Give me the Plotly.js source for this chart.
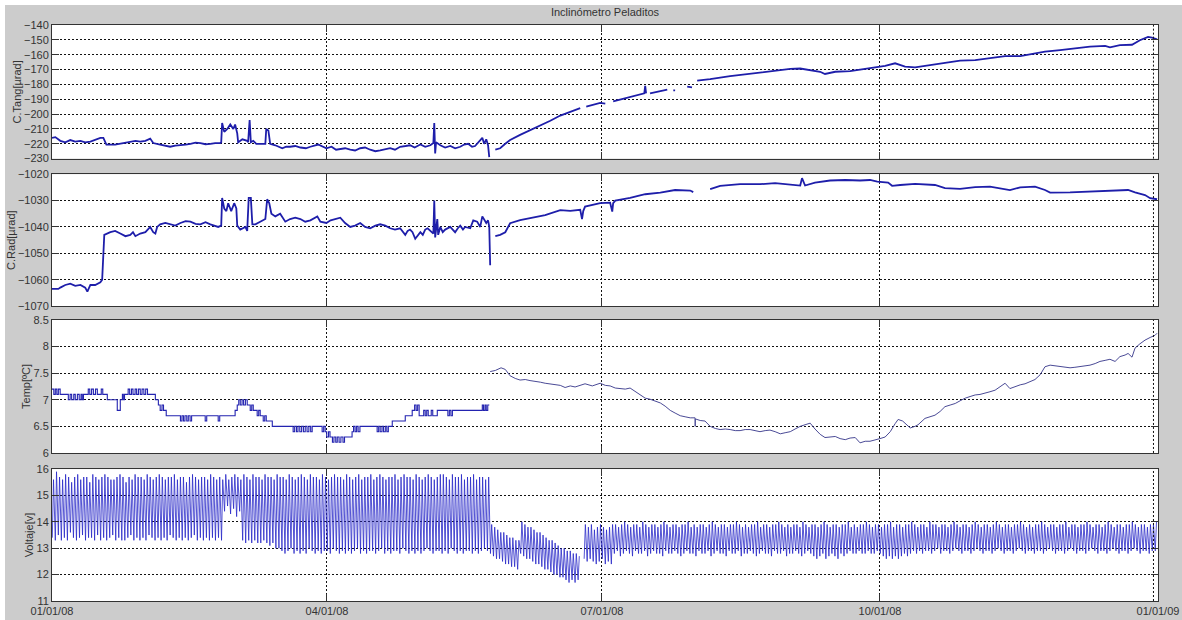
<!DOCTYPE html>
<html><head><meta charset="utf-8">
<script src="https://cdn.plot.ly/plotly-3.0.1.min.js"></script>
<style>html,body{margin:0;padding:0;background:#cccccc}#chart{width:1182px;height:620px}</style>
</head><body><div id="chart"></div>
<script>
// ---- time axis helpers (days since 2008-01-01) ----
const START = Date.UTC(2008,0,1);
const DAY = 86400000;
function dayToStr(d){ return new Date(START + d*DAY).toISOString().slice(0,19).replace('T',' '); }

const xTickVals = ['2008-01-01','2008-04-01','2008-07-01','2008-10-01','2009-01-01'];
const xTickText = ['01/01/08','04/01/08','07/01/08','10/01/08','01/01/09'];

// ---- C.Tang [µrad] ----
const tangDay = [0,1.1,2.75,4.4,6.05,7.7,9.4,11.0,12.7,14.3,16.0,17.0,18.0,20.9,22.6,24.3,26.0,27.6,29.2,30.9,32.5,33.5,35.8,37.5,39.1,40.8,42.5,44.2,45.8,47.5,49.1,50.8,52.4,54.0,55.7,56.0,56.3,57.0,58.0,59.0,60.0,60.6,61.3,61.6,63.0,64.6,64.9,65.4,65.8,66.6,67.6,70.6,70.9,71.6,72.2,73.9,76.2,77.5,78.8,80.5,82.2,84.0,85.5,87.0,88.1,90.8,92.5,94.0,95.4,97.0,98.7,100.3,102.0,103.6,105.3,107.0,108.6,110.3,111.9,113.5,115.2,117.0,118.5,120.0,121.9,123.5,125.2,126.2,126.5,126.8,127.1,128.5,130.1,131.8,133.4,135.1,136.4,137.7,139.0,140.0,141.0,142.4,143.0,143.7,144.3,144.7,145.6,146.7,148.3,150.0,151.6,154.9,158.2,161.6,164.9,168.2,171.5,174.8,175.8,176.8,181.4,183.1,184.4,185.7,191.3,196.0,196.3,196.6,197.3,197.9,203.6,204.6,205.6,206.2,208.0,210.2,211.8,212.8,213.5,216.1,217.8,224.4,231.0,237.6,244.3,247.6,250.9,254.2,255.8,259.2,264.1,269.1,273.1,275.7,279.0,282.3,285.6,290.6,295.5,300.5,305.5,310.4,315.4,320.4,323.7,328.6,333.6,338.5,343.5,348.5,350.1,353.4,357.4,360.0,362.7,364.0,365.7];
const tangVal = [-216,-215.5,-218,-219,-217.5,-218.5,-218,-219,-218.5,-217.5,-216,-216,-220.5,-220.5,-219.8,-219.5,-218.8,-218,-218.5,-218,-216.5,-219.5,-220.5,-221.2,-222,-221.2,-221,-220.5,-220,-219.2,-219.5,-220.3,-220,-219.5,-219.5,-219,-206,-212,-210,-207,-210,-207,-213,-219,-217,-218,-219,-204,-219,-218,-220,-220,-210,-211,-220,-221,-223,-222,-222,-221.5,-222.5,-223,-222,-221,-220.5,-223,-222,-224,-223.5,-223,-224,-224.5,-223,-222.5,-224,-225,-224.5,-223.5,-223,-224,-222,-221.5,-221,-222.5,-220.5,-222,-221,-219.5,-206,-226.5,-219,-221,-222.5,-221.5,-223,-222,-220.5,-220,-222,-221.5,-219,-216,-220,-217,-221,-229,null,-224,-223,-220,-217.5,-214,-211,-208,-204.5,-201,-198.5,-196,null,-195,-192.5,-193,null,-191.5,-188.5,-186,-181,-186,null,-186,-183.5,null,-184,-184,null,-181.5,-182,null,-177.5,-177,-176.5,-174.5,-172.7,-171,-169.5,-169.3,-170.4,-171.5,-173,-171.5,-171,-169.6,-168.5,-167.6,-165.8,-168,-168.5,-166.9,-165.4,-164,-163.6,-162.5,-161,-161,-159.6,-158,-156.9,-155.7,-154.6,-154.1,-155,-153.5,-153.3,-150.3,-148,-148.5,-149.6];

// ---- C.Rad [µrad] ----
const radDay = [0,2.1,2.75,4.4,6.05,7.7,9.4,11.0,11.7,12.7,14.3,16.0,16.6,17.0,17.3,19.3,20.9,22.6,24.3,25.9,26.8,27.6,29.2,30.9,32.5,33.5,34.2,34.8,35.8,37.5,39.1,40.8,42.5,44.2,45.8,47.5,49.1,50.8,52.4,53.7,55.0,56.0,56.3,57.0,57.7,58.3,59.3,60.3,61.0,61.3,62.3,64.0,64.6,65.1,65.8,66.3,67.3,68.9,70.6,71.2,71.9,72.6,73.9,75.5,77.2,78.8,80.5,82.2,83.8,85.5,87.8,88.8,90.8,92.2,93.7,95.4,97.0,98.7,100.3,102.0,103.6,105.3,107.0,108.6,110.3,111.9,113.5,115.2,116.9,117.7,118.5,119.3,120.2,121.9,122.7,123.5,124.3,125.2,126.2,126.5,126.8,127.5,127.8,128.5,129.3,130.1,131.8,132.6,133.4,134.3,135.1,136.0,136.7,138.4,139.4,140.7,141.7,142.4,143.0,143.7,144.3,144.7,145.0,145.8,146.7,148.3,150.0,151.6,154.9,158.2,163.2,168.2,171.5,174.8,175.4,175.8,176.4,181.4,184.7,185.4,185.7,186.4,191.3,196.3,201.3,206.2,211.2,212.2,214.0,217.8,221.1,227.7,234.3,239.3,244.3,247.6,248.2,249.2,252.5,257.5,262.5,267.4,270.7,273.1,276.7,278.0,280.7,285.6,292.2,295.5,300.5,305.5,310.4,317.0,320.4,325.3,328.6,330.3,336.9,343.5,350.1,356.1,358.4,361.7,363.4,365.7];
const radVal = [-1063.5,-1063.5,-1063,-1062,-1061.5,-1062.3,-1062,-1063,-1064.5,-1062,-1062,-1061,-1060,-1050,-1043,-1042,-1041.5,-1042.5,-1043.5,-1043,-1042,-1043.5,-1042.5,-1042,-1040,-1042,-1042.5,-1040,-1039,-1038.5,-1039,-1039.5,-1038.5,-1037.8,-1038,-1038.8,-1039,-1038.2,-1039,-1039.5,-1040,-1039.5,-1029,-1033,-1034,-1031,-1034,-1031,-1033,-1039.5,-1041,-1040,-1041.5,-1029,-1029,-1039,-1039,-1038,-1037,-1029.5,-1031,-1035,-1036,-1035,-1038,-1037,-1036.5,-1037,-1038,-1037.5,-1036,-1038,-1038.5,-1037.5,-1037,-1036.5,-1038.5,-1040,-1039.5,-1038.5,-1040,-1040.5,-1039.5,-1039,-1039.5,-1040.5,-1041,-1040.5,-1043,-1041.5,-1041,-1042,-1044.5,-1042,-1043,-1041,-1040.5,-1041.5,-1042.5,-1030,-1044,-1037,-1043,-1040,-1042,-1041,-1040,-1041,-1042,-1040.5,-1039.5,-1041,-1040,-1040.5,-1037.5,-1038,-1040,-1036,-1037,-1038.5,-1037.5,-1040,-1054.5,null,-1043.5,-1043,-1042,-1038.6,-1037.4,-1036.7,-1035.5,-1033.6,-1033.9,-1033.5,-1037,-1034,-1032.3,-1031,-1030.8,-1034.2,-1031,-1030,-1029,-1027.6,-1027,-1026,-1026.2,-1026.8,null,-1025.7,-1024.4,-1023.8,-1023.8,-1023.4,-1024,-1024.3,-1021.5,-1024.3,-1023.2,-1022.4,-1022.2,-1022.4,-1022.2,-1022.8,-1023.2,-1024.4,-1024.1,-1023.7,-1024.1,-1025.3,-1025.6,-1024.9,-1024.7,-1026,-1025,-1024.7,-1026,-1027,-1026.9,-1026.6,-1026.2,-1026,-1026.9,-1027.9,-1029.1,-1029.5];

// ---- Temp [ºC]: stepped logger period (Jan-May) ----
const tempStepDay = [0,0.6,1.1,1.6,2.1,2.7,5.4,6.0,6.5,7.2,7.7,8.4,9.0,9.6,10.0,10.4,12.0,12.5,13.1,13.7,14.4,15.0,16.3,16.8,18.3,21.6,22.6,23.3,23.6,24.0,25.2,25.7,26.3,26.8,27.5,28.0,28.6,29.2,29.8,30.4,31.0,31.6,34.2,35.2,35.8,36.4,36.9,37.8,42.5,43.0,43.5,44.0,44.6,45.1,45.7,46.2,50.7,51.2,55.0,55.5,60.6,61.3,61.8,62.3,62.9,63.4,64.0,64.6,65.6,66.1,66.6,67.9,68.4,68.9,69.9,70.4,70.9,72.9,79.8,80.3,80.9,81.4,82.0,82.6,83.2,83.8,84.4,85.0,85.6,86.1,89.4,89.9,90.4,90.9,91.5,92.0,92.8,93.3,93.9,94.4,95.0,95.6,96.3,96.8,99.3,99.8,100.3,100.8,101.3,101.9,107.6,108.1,108.6,109.2,109.7,110.3,110.8,111.3,112.6,116.9,119.2,120.0,120.5,121.0,121.5,123.0,123.5,124.0,124.5,125.5,126.0,127.5,131.0,131.5,132.0,132.5,142.4,142.8,143.3,143.7,144.2,144.7];
const tempStepVal = [7.2,7.1,7.2,7.1,7.2,7.1,7.0,7.1,7.0,7.1,7.0,7.1,7.0,7.1,7.0,7.1,7.2,7.1,7.2,7.1,7.2,7.1,7.2,7.1,7.0,6.8,7.0,7.1,7.0,7.1,7.2,7.1,7.2,7.1,7.2,7.1,7.2,7.1,7.2,7.1,7.2,7.1,7.0,6.9,6.8,6.9,6.8,6.7,6.6,6.7,6.6,6.7,6.6,6.7,6.6,6.7,6.6,6.7,6.6,6.7,6.8,6.9,7.0,6.9,7.0,6.9,7.0,6.9,6.8,6.9,6.8,6.7,6.8,6.7,6.6,6.7,6.6,6.5,6.4,6.5,6.4,6.5,6.4,6.5,6.4,6.5,6.4,6.5,6.4,6.5,6.4,6.5,6.4,6.3,6.4,6.3,6.2,6.3,6.2,6.3,6.2,6.3,6.2,6.3,6.4,6.5,6.4,6.5,6.4,6.5,6.4,6.5,6.4,6.5,6.4,6.5,6.4,6.5,6.6,6.7,6.8,6.9,6.8,6.9,6.7,6.8,6.7,6.8,6.7,6.8,6.7,6.8,6.7,6.8,6.7,6.8,6.9,6.8,6.9,6.8,6.9,6.9];

// ---- Temp [ºC]: high-resolution period (May-Dec) ----
const tempDay = [145.0,146.7,148.6,150.0,151.6,153.3,154.9,156.6,158.2,159.9,161.6,163.2,164.9,166.5,168.2,169.8,171.5,173.1,174.8,176.4,178.8,181.4,183.1,184.7,186.4,189.7,191.3,193.0,194.6,196.3,197.9,199.6,201.3,202.9,204.6,206.2,207.9,209.5,211.2,212.8,212.85,212.9,214.5,216.1,217.8,219.5,221.1,222.8,224.4,226.1,227.7,229.4,231.0,232.7,234.3,236.0,237.6,239.3,241.0,242.6,244.3,245.9,247.6,249.2,250.9,252.5,254.2,255.8,257.5,259.2,260.8,262.5,264.1,265.8,267.4,269.1,270.7,272.4,274.0,275.7,277.4,279.0,280.0,281.5,282.3,284.0,285.6,286.6,288.9,290.6,292.2,293.9,295.5,297.2,298.9,300.5,302.2,303.8,305.5,307.1,308.8,310.4,312.1,313.7,315.4,317.0,318.7,320.4,322.0,323.7,325.3,327.0,328.6,330.3,331.9,333.6,335.2,336.9,338.5,340.2,341.9,343.5,345.2,346.8,348.5,350.1,351.8,353.4,355.1,356.1,357.4,358.4,360.0,361.7,363.4,364.0,365.0,365.7];
const tempVal = [7.53,7.55,7.60,7.57,7.45,7.40,7.37,7.38,7.36,7.35,7.33,7.31,7.30,7.28,7.27,7.23,7.26,7.24,7.27,7.30,7.26,7.31,7.27,7.26,7.22,7.20,7.22,7.15,7.10,7.03,7.01,6.98,6.94,6.88,6.80,6.75,6.70,6.68,6.66,6.66,6.50,6.64,6.61,6.60,6.50,6.46,6.44,6.45,6.44,6.42,6.42,6.44,6.44,6.42,6.40,6.42,6.43,6.40,6.36,6.38,6.40,6.45,6.50,6.53,6.56,6.45,6.35,6.29,6.30,6.31,6.27,6.25,6.28,6.29,6.19,6.22,6.22,6.24,6.27,6.30,6.40,6.55,6.63,6.60,6.56,6.47,6.50,6.53,6.65,6.68,6.71,6.78,6.87,6.90,6.93,6.98,7.03,7.06,7.09,7.10,7.12,7.15,7.18,7.24,7.31,7.21,7.25,7.28,7.30,7.34,7.38,7.47,7.62,7.65,7.64,7.62,7.61,7.60,7.61,7.62,7.63,7.65,7.68,7.72,7.74,7.76,7.72,7.81,7.84,7.87,7.80,7.97,8.05,8.12,8.17,8.19,8.21,8.25];

// ---- Voltaje [v]: daily maximum and minimum, one entry per day from 2008-01-01 ----
const voltHigh = [
15.6,15.9,15.7,15.6,15.8,15.7,15.5,15.7,15.8,15.6,
15.7,15.7,15.5,15.8,15.7,15.6,15.7,15.8,15.7,15.6,
15.6,15.7,15.8,15.7,15.5,15.7,15.6,15.8,15.7,15.7,
15.6,15.8,15.7,15.6,15.7,15.8,15.7,15.6,15.7,15.7,
15.8,15.6,15.7,15.7,15.5,15.7,15.8,15.7,15.6,15.7,
15.7,15.6,15.8,15.7,15.6,15.7,15.6,
15.8,15.6,15.7,15.8,15.7,15.6,
15.8,15.7,15.6,15.8,15.7,15.7,15.6,15.8,15.7,15.7,15.6,15.8,15.7,
15.7,15.6,15.8,15.7,15.6,15.7,15.8,15.7,15.6,15.8,
15.7,15.7,15.6,15.8,15.7,15.6,15.7,15.8,15.7,15.7,
15.6,15.8,15.7,15.6,15.7,15.8,15.6,15.7,15.7,15.8,
15.6,15.7,15.8,15.7,15.6,15.7,15.7,15.8,15.6,15.7,
15.8,15.7,15.7,15.6,15.8,15.7,15.6,15.7,15.8,15.7,
15.6,15.7,15.8,15.8,15.7,15.6,15.8,15.7,15.7,15.8,
15.6,15.7,15.7,15.8,15.6,15.7,15.7,15.6,15.7,
13.9,13.8,13.7,13.6,13.6,13.5,13.4,13.4,13.3,13.3,
14.0,13.9,13.8,13.8,13.7,13.6,13.6,13.5,13.4,13.3,
13.3,13.2,13.1,13.0,13.0,12.9,12.9,12.8,12.8,12.7,
null,
13.9,13.8,13.9,13.7,13.8,13.9,13.8,13.7,13.8,13.9,
13.9,13.8,13.9,14.0,13.9,13.8,13.9,13.9,13.8,14.0,13.9,13.8,13.9,13.9,13.8,13.9,14.0,13.9,13.8,13.9,
13.9,13.8,13.9,13.9,14.0,13.8,13.9,13.8,13.9,13.9,13.8,13.9,14.0,13.9,13.8,13.9,13.9,13.8,13.9,13.9,
14.0,13.9,13.8,13.9,13.8,13.9,13.9,14.0,13.8,13.9,13.9,13.8,13.9,13.9,14.0,13.9,13.8,13.9,13.8,13.9,
13.9,13.8,14.0,13.9,13.8,13.9,13.9,13.8,13.9,14.0,13.9,13.8,13.9,13.9,13.8,13.9,13.9,14.0,13.8,13.9,
13.8,13.9,13.9,14.0,13.9,13.8,13.9,13.9,13.8,13.9,13.9,14.0,13.8,13.9,13.9,13.8,13.9,13.9,14.0,13.9,
13.8,13.9,13.9,13.8,14.0,13.9,13.9,13.8,13.9,13.9,13.8,13.9,14.0,13.9,13.8,13.9,13.9,13.8,13.9,14.0,
13.9,13.8,13.9,13.9,13.8,13.9,14.0,13.9,13.8,13.9,13.9,13.8,13.9,13.9,14.0,13.9,13.8,13.9,13.8,13.9,
13.9,14.0,13.9,13.8,13.9,13.9,13.8,13.9,13.9,14.0,13.8,13.9,13.9,13.8,13.9,13.9,14.0,13.9,13.8,13.9,
13.9,13.8,13.9,14.0,13.9,13.8,13.9,13.9,13.8,13.9,13.9,14.0,13.9,13.8,13.9,13.9,13.8,13.9,13.9,14.0
];
const voltLow = [
13.4,13.3,13.5,13.3,13.4,13.3,13.6,13.4,13.3,13.4,
13.5,13.3,13.4,13.4,13.3,13.5,13.3,13.4,13.3,13.4,
13.5,13.3,13.4,13.3,13.3,13.4,13.5,13.3,13.4,13.3,
13.4,13.3,13.5,13.4,13.3,13.4,13.3,13.4,13.3,13.5,
13.4,13.3,13.4,13.3,13.4,13.3,13.4,13.5,13.3,13.4,
13.3,13.4,13.3,13.4,13.3,13.4,13.3,
14.4,14.6,14.3,14.5,14.2,14.4,
13.3,13.2,13.3,13.2,13.3,13.2,13.2,13.3,13.2,13.1,13.2,13.0,13.0,
12.9,12.8,12.9,13.0,12.8,12.9,12.8,12.9,12.8,13.0,
12.9,12.8,12.9,12.8,12.9,12.9,12.8,13.0,12.9,12.8,
12.9,12.8,12.9,12.8,12.9,13.0,12.8,12.9,12.8,12.9,
12.9,12.8,12.9,13.0,12.8,12.9,12.8,12.9,12.9,12.8,
13.0,12.9,12.8,12.9,12.8,12.9,12.8,12.9,13.0,12.9,
12.8,12.9,12.9,12.8,12.9,12.8,13.0,12.9,12.8,12.9,
12.8,12.9,12.9,12.8,12.9,12.8,12.9,13.0,12.9,
12.8,12.7,12.6,12.6,12.5,12.4,12.4,12.3,12.3,12.2,
12.8,12.7,12.6,12.6,12.5,12.4,12.4,12.3,12.2,12.2,
12.1,12.0,12.0,11.9,11.9,11.8,11.7,11.8,11.7,11.8,
null,
12.6,12.5,12.6,12.5,12.4,12.5,12.6,12.4,12.5,12.4,
12.8,12.9,12.7,12.8,12.9,12.8,12.7,12.9,12.8,12.8,12.9,12.7,12.8,12.9,12.8,12.8,12.7,12.9,12.8,12.8,
12.9,12.8,12.7,12.8,12.9,12.8,12.8,12.7,12.9,12.8,12.8,12.9,12.7,12.8,12.9,12.8,12.8,12.7,12.9,12.8,
12.8,12.9,12.7,12.8,12.8,12.9,12.8,12.7,12.8,12.9,12.8,12.8,12.7,12.9,12.8,12.8,12.9,12.7,12.8,12.8,
12.9,12.8,12.7,12.8,12.9,12.8,12.7,12.6,12.7,12.8,12.6,12.7,12.8,12.7,12.6,12.8,12.7,12.8,12.9,12.8,
12.8,12.9,12.8,12.8,12.9,12.8,12.8,12.9,12.8,12.7,12.6,12.7,12.6,12.7,12.6,12.7,12.8,12.7,12.8,12.9,
12.8,12.9,12.8,12.9,12.9,12.8,12.9,13.0,12.8,12.9,12.9,12.8,12.9,13.0,12.9,12.8,12.9,12.9,12.8,12.9,
13.0,12.9,12.8,12.9,12.9,12.8,12.9,13.0,12.9,12.8,12.9,12.9,12.8,12.9,13.0,12.9,12.8,12.9,12.9,12.8,
12.9,12.9,12.8,12.9,13.0,12.9,12.8,12.9,12.9,12.8,12.9,13.0,12.9,12.8,12.9,12.9,12.8,12.9,13.0,12.9,
12.8,12.9,12.9,12.8,12.9,13.0,12.9,12.8,12.9,12.9,12.8,12.9,13.0,12.9,12.8,12.9,12.9,12.8,12.9,12.9
];

// ---- build traces ----
const vx = [], vy = [];
for (let i = 0; i < voltHigh.length; i++) {
  if (voltHigh[i] === null) { vx.push(dayToStr(i + 0.5)); vy.push(null); continue; }
  vx.push(dayToStr(i + 0.1)); vy.push(voltLow[i]);
  vx.push(dayToStr(i + 0.5)); vy.push(voltHigh[i]);
}

const BLUE = '#1e1eaa';
const traces = [
  {x: tangDay.map(dayToStr), y: tangVal, xaxis:'x', yaxis:'y', type:'scatter', mode:'lines', line:{color:BLUE, width:1.8}},
  {x: radDay.map(dayToStr), y: radVal, xaxis:'x2', yaxis:'y2', type:'scatter', mode:'lines', line:{color:BLUE, width:1.8}},
  {x: tempStepDay.map(dayToStr), y: tempStepVal, xaxis:'x3', yaxis:'y3', type:'scatter', mode:'lines', line:{color:'#2323b0', width:1.1, shape:'hv'}},
  {x: tempDay.map(dayToStr), y: tempVal, xaxis:'x3', yaxis:'y3', type:'scatter', mode:'lines', line:{color:'#4a4a96', width:1}},
  {x: vx, y: vy, xaxis:'x4', yaxis:'y4', type:'scatter', mode:'lines', line:{color:'#2828c8', width:0.8}}
];

const FONT = {family:'"Liberation Sans", Arial, sans-serif', size:11, color:'#333'};
const GRID = '#111';
function xax(showLabels, anchor){
  return {type:'date', range:['2008-01-01','2009-01-01'], tickmode:'array', tickvals:xTickVals, ticktext:xTickText,
    showticklabels:showLabels, ticks:'inside', ticklen:7, tickcolor:'#333', mirror:'ticks', showline:true,
    linecolor:'#333', linewidth:1, showgrid:true, gridcolor:GRID, griddash:'2px,2px', gridwidth:1,
    zeroline:false, anchor:anchor, tickfont:FONT, fixedrange:true};
}
function yax(domain, range, dtick, title, anchor){
  return {domain:domain, range:range, dtick:dtick, tick0:range[0], tickmode:'linear', ticks:'inside', ticklen:7,
    tickcolor:'#333', mirror:'ticks', showline:true, linecolor:'#333', linewidth:1, showgrid:true,
    gridcolor:GRID, griddash:'2px,2px', gridwidth:1, zeroline:false, anchor:anchor, tickfont:FONT,
    title:{text:title, font:FONT, standoff:0}, fixedrange:true};
}

const shapes = [];
['y','y2','y3','y4'].forEach((ya,i)=>{
  shapes.push({type:'line', xref:(i===0?'x':'x'+(i+1)), yref:ya+' domain', x0:'2008-12-30 12:00', x1:'2008-12-30 12:00', y0:0, y1:1,
    line:{color:GRID, width:1, dash:'2px,2px'}, layer:'above'});
});
// thin white border along the top and left edges of the figure
shapes.push({type:'rect', xref:'paper', yref:'paper', x0:-0.06, x1:1.05, y0:(601-5)/576, y1:1.06, fillcolor:'#ffffff', line:{width:0}, layer:'below'});
shapes.push({type:'rect', xref:'paper', yref:'paper', x0:-0.06, x1:-47/1106, y0:-0.05, y1:1.06, fillcolor:'#ffffff', line:{width:0}, layer:'below'});

const layout = {
  width:1182, height:620,
  paper_bgcolor:'#cccccc', plot_bgcolor:'#ffffff',
  margin:{l:52, r:24, t:25, b:19},
  showlegend:false,
  title:{text:'Inclinómetro Peladitos', font:FONT, x:0.5, xref:'paper', y:1-12/620, yref:'container', yanchor:'middle'},
  xaxis: xax(false,'y'), yaxis: yax([0.768,1], [-230,-140], 10, 'C.Tang[µrad]', 'x'),
  xaxis2: xax(false,'y2'), yaxis2: yax([0.512,0.741], [-1070,-1020], 10, 'C.Rad[µrad]', 'x2'),
  xaxis3: xax(false,'y3'), yaxis3: yax([0.257,0.488], [6,8.5], 0.5, 'Temp[ºC]', 'x3'),
  xaxis4: xax(true,'y4'), yaxis4: yax([0,0.229], [11,16], 1, 'Voltaje[v]', 'x4'),
  shapes: shapes
};

Plotly.newPlot('chart', traces, layout, {staticPlot:true, displayModeBar:false});
</script>
</body></html>
